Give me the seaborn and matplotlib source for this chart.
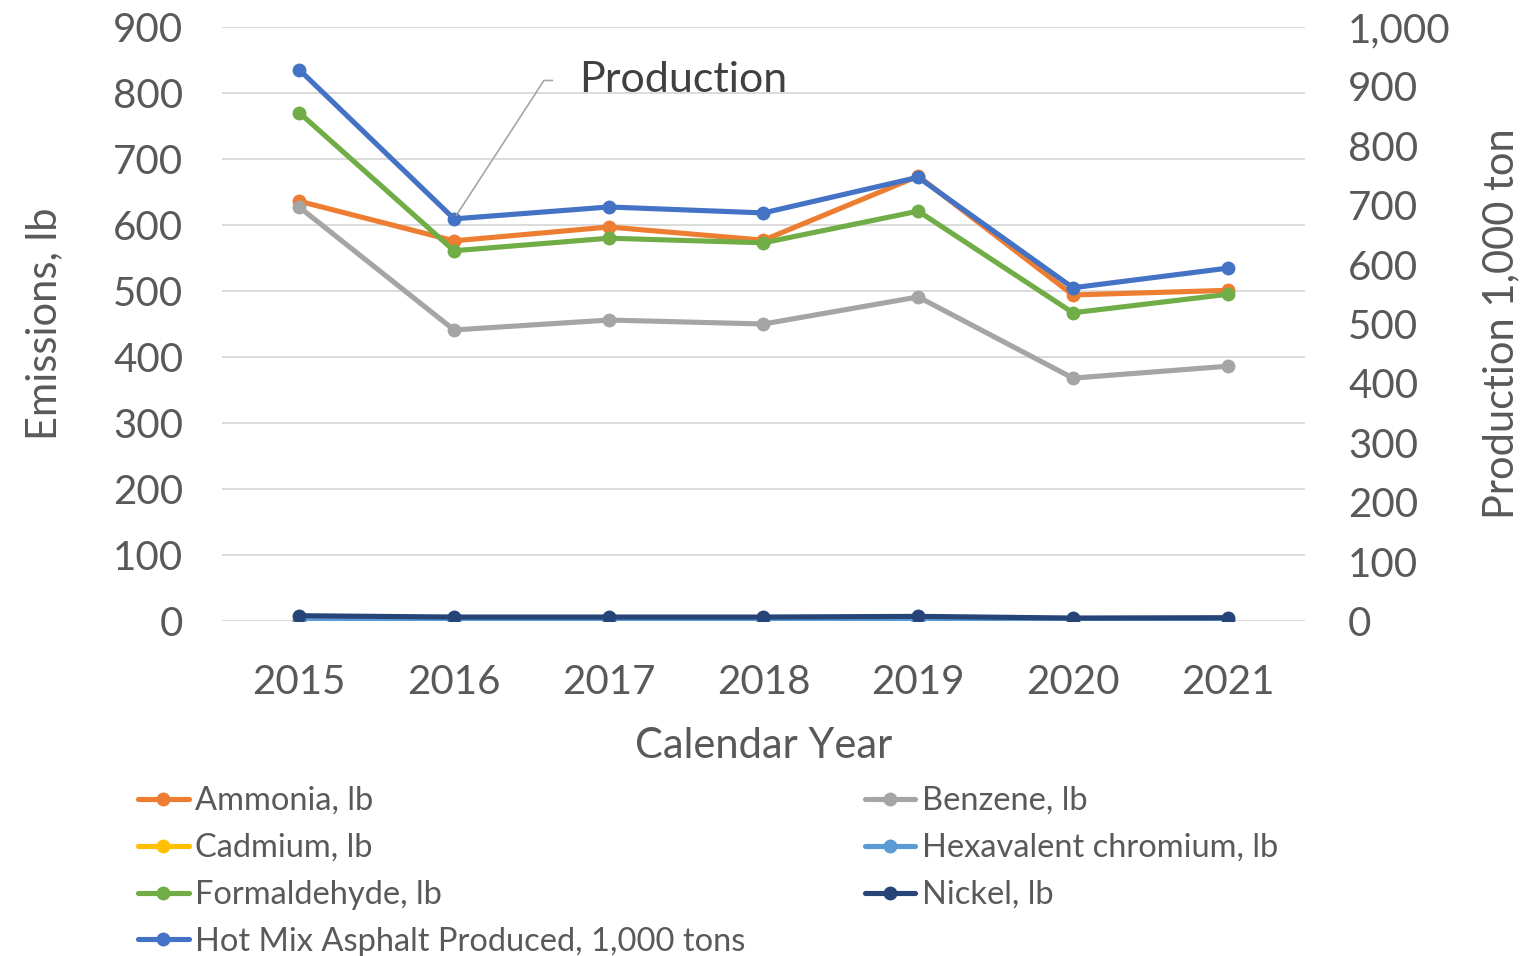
import matplotlib
matplotlib.use('Agg')
import matplotlib.pyplot as plt
from matplotlib.ticker import FuncFormatter, MultipleLocator
import pandas as pd
import seaborn as sns

years = [2015, 2016, 2017, 2018, 2019, 2020, 2021]
ammonia = [636, 576, 597, 577, 674, 494, 501]
benzene = [627, 441, 456, 450, 491, 368, 386]
cadmium = [0.2, 0.2, 0.2, 0.2, 0.2, 0.2, 0.2]
hex_chromium = [0.6, 0.5, 0.5, 0.5, 0.6, 0.4, 0.4]
formaldehyde = [770, 561, 580, 573, 621, 467, 495]
nickel = [8, 6, 6, 6, 7, 4.5, 5]
production = [928, 677, 697, 687, 747, 561, 594]

left_series = [
    ('Ammonia, lb', ammonia, '#ED7D31'),
    ('Benzene, lb', benzene, '#A5A5A5'),
    ('Cadmium, lb', cadmium, '#FFC000'),
    ('Hexavalent chromium, lb', hex_chromium, '#5B9BD5'),
    ('Formaldehyde, lb', formaldehyde, '#70AD47'),
    ('Nickel, lb', nickel, '#264478'),
]
prod_label = 'Hot Mix Asphalt Produced, 1,000 tons'
prod_color = '#4472C4'

sns.set_style('white')
plt.rcParams['font.family'] = ['Lato', 'DejaVu Sans']
text_color = '#595959'
tick_size = 29
label_size = 30

fig = plt.figure(figsize=(15.38, 9.56), dpi=100)
ax = fig.add_axes([222 / 1538, 1 - 621 / 956, (1305 - 222) / 1538, (621 - 27) / 956])

handles = {}
for name, vals, color in left_series:
    df = pd.DataFrame({'year': years, 'value': vals})
    sns.lineplot(data=df, x='year', y='value', ax=ax, color=color, linewidth=3.7,
                 marker='o', markersize=10, markeredgewidth=0, label=name, legend=False)
    handles[name] = ax.lines[-1]

ax.set_xlim(2014.5, 2021.5)
ax.set_ylim(0, 900)
ax.yaxis.set_major_locator(MultipleLocator(100))
ax.set_xticks(years)
ax.grid(axis='y', color='#D9D9D9', linewidth=1.3)
ax.grid(axis='x', visible=False)
for s in ax.spines.values():
    s.set_visible(False)
ax.tick_params(axis='both', length=0, labelsize=tick_size, labelcolor=text_color)
ax.tick_params(axis='y', pad=28)
ax.tick_params(axis='x', pad=31)
ax.set_xlabel('Calendar Year', fontsize=label_size, color=text_color, labelpad=19)
ax.set_ylabel('Emissions, lb', fontsize=label_size, color=text_color, labelpad=36)

ax2 = ax.twinx()
dfp = pd.DataFrame({'year': years, 'value': production})
sns.lineplot(data=dfp, x='year', y='value', ax=ax2, color=prod_color, linewidth=3.7,
             marker='o', markersize=10, markeredgewidth=0, label=prod_label, legend=False)
handles[prod_label] = ax2.lines[-1]
ax2.set_ylim(0, 1000)
ax2.yaxis.set_major_locator(MultipleLocator(100))
ax2.yaxis.set_major_formatter(FuncFormatter(lambda v, p: f'{int(v):,}'))
ax2.grid(False)
for s in ax2.spines.values():
    s.set_visible(False)
ax2.tick_params(axis='y', length=0, labelsize=tick_size, labelcolor=text_color, pad=31)
ax2.set_ylabel('Production 1,000 ton', fontsize=label_size, color=text_color, labelpad=23)
ax2.set_xlabel('')

# leader line from the callout text down to the 2016 production point
ax2.annotate('Production', xy=(years[1], production[1]), xytext=(2016.81, 910),
             fontsize=31, color='#404040', ha='left', va='center',
             arrowprops=dict(arrowstyle='-', color='#A6A6A6', lw=1.2,
                             connectionstyle='angle,angleA=180,angleB=57,rad=0',
                             relpos=(0, 0.5), shrinkA=17, shrinkB=3))

order = ['Ammonia, lb', 'Cadmium, lb', 'Formaldehyde, lb', prod_label,
         'Benzene, lb', 'Hexavalent chromium, lb', 'Nickel, lb']
leg = fig.legend([handles[n] for n in order], order, ncol=2, loc='upper left',
                 bbox_to_anchor=(138 / 1538, 1 - 786 / 956), bbox_transform=fig.transFigure,
                 frameon=False, fontsize=23.5, handlelength=1.55, handletextpad=0.2,
                 columnspacing=3.65, labelspacing=0.52, borderpad=0, borderaxespad=0)
for t in leg.get_texts():
    t.set_color(text_color)

fig.savefig('out.png', dpi=100)
